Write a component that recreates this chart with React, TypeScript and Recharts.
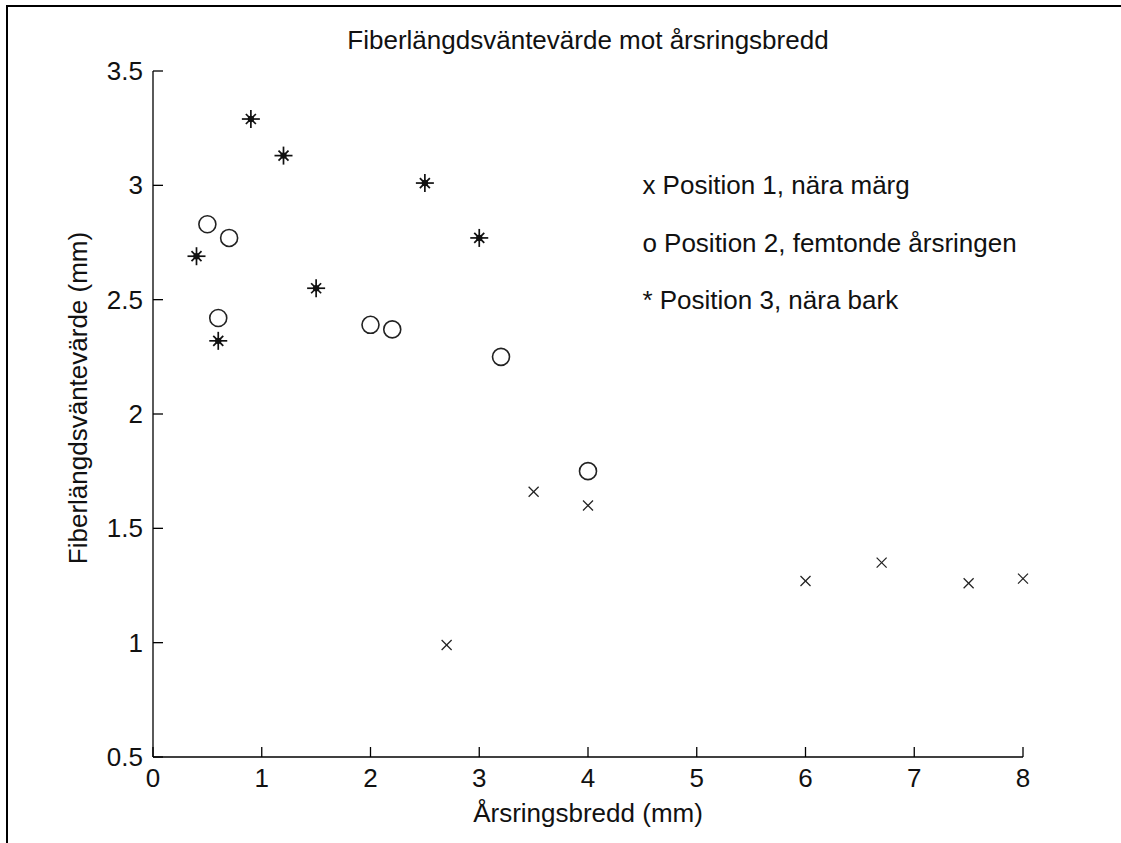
import React from 'react';
import { ScatterChart, Scatter, XAxis, YAxis } from 'recharts';

// Fibre length expectation vs. annual ring width, three sampling positions
const pos1X = [2.7, 3.5, 4.0, 6.0, 6.7, 7.5, 8.0];
const pos1Y = [0.99, 1.66, 1.6, 1.27, 1.35, 1.26, 1.28];

const pos2X = [0.5, 0.7, 0.6, 2.0, 2.2, 3.2, 4.0];
const pos2Y = [2.83, 2.77, 2.42, 2.39, 2.37, 2.25, 1.75];

const pos3X = [0.4, 0.9, 1.2, 1.5, 0.6, 2.5, 3.0];
const pos3Y = [2.69, 3.29, 3.13, 2.55, 2.32, 3.01, 2.77];

const xTicks = [0, 1, 2, 3, 4, 5, 6, 7, 8];
const yTicks = [0.5, 1, 1.5, 2, 2.5, 3, 3.5];

// text annotations placed in data coordinates (like MATLAB text())
const noteX = [4.5, 4.5, 4.5];
const noteY = [3.0, 2.75, 2.5];
const noteText = [
  'x Position 1, nära märg',
  'o Position 2, femtonde årsringen',
  '* Position 3, nära bark',
];

const zip = (xs: number[], ys: number[]) => xs.map((x, i) => ({ x, y: ys[i] }));
const pos1 = zip(pos1X, pos1Y);
const pos2 = zip(pos2X, pos2Y);
const pos3 = zip(pos3X, pos3Y);
const notes = noteX.map((x, i) => ({ x, y: noteY[i], text: noteText[i] }));

const FONT = '"Liberation Sans", Arial, sans-serif';
const FS = 26;
const INK = '#111';

const XTick = (props: any) => {
  const { x, y, payload } = props;
  return (
    <g>
      <line x1={x} y1={y} x2={x} y2={y - 10} stroke="#000" strokeWidth={1.3} />
      <text x={x} y={y + 30} textAnchor="middle" fontSize={FS} fontFamily={FONT} fill={INK}>
        {payload.value}
      </text>
    </g>
  );
};

const YTick = (props: any) => {
  const { x, y, payload } = props;
  return (
    <g>
      <line x1={x} y1={y} x2={x + 10} y2={y} stroke="#000" strokeWidth={1.3} />
      <text x={x - 10} y={y + 9} textAnchor="end" fontSize={FS} fontFamily={FONT} fill={INK}>
        {payload.value}
      </text>
    </g>
  );
};

const Cross = ({ cx, cy }: any) => (
  <g stroke="#222" strokeWidth={1.3}>
    <line x1={cx - 5} y1={cy - 5} x2={cx + 5} y2={cy + 5} />
    <line x1={cx - 5} y1={cy + 5} x2={cx + 5} y2={cy - 5} />
  </g>
);

const Ring = ({ cx, cy }: any) => (
  <circle cx={cx} cy={cy} r={8.5} fill="none" stroke="#222" strokeWidth={1.6} />
);

const Star = ({ cx, cy }: any) => (
  <g stroke="#111" strokeWidth={1.7}>
    <line x1={cx - 9} y1={cy} x2={cx + 9} y2={cy} />
    <line x1={cx} y1={cy - 9} x2={cx} y2={cy + 9} />
    <line x1={cx - 5} y1={cy - 5} x2={cx + 5} y2={cy + 5} />
    <line x1={cx - 5} y1={cy + 5} x2={cx + 5} y2={cy - 5} />
    <circle cx={cx} cy={cy} r={3.2} fill="#111" stroke="none" />
  </g>
);

const Note = ({ cx, cy, payload }: any) => (
  <text x={cx} y={cy} dominantBaseline="central" fontSize={FS} fontFamily={FONT} fill={INK}>
    {payload.text}
  </text>
);

const YLabel = ({ viewBox }: any) => {
  const cx = 78;
  const cy = viewBox.y + viewBox.height / 2 - 16;
  return (
    <text
      x={cx}
      y={cy}
      transform={`rotate(-90 ${cx} ${cy})`}
      textAnchor="middle"
      dominantBaseline="central"
      fontSize={FS}
      fontFamily={FONT}
      fill={INK}
    >
      Fiberlängdsväntevärde (mm)
    </text>
  );
};

export default function App() {
  return (
    <div style={{ position: 'absolute', left: 0, top: 0, width: 1121, height: 843, background: '#fff' }}>
      <div
        style={{
          position: 'absolute',
          left: 6,
          top: 5,
          right: 0,
          bottom: 0,
          borderTop: '2px solid #000',
          borderLeft: '2px solid #000',
        }}
      />
      <div
        style={{
          position: 'absolute',
          left: 153,
          width: 870,
          top: 27,
          lineHeight: '26px',
          fontSize: FS,
          fontFamily: FONT,
          color: INK,
          textAlign: 'center',
        }}
      >
        Fiberlängdsväntevärde mot årsringsbredd
      </div>
      <ScatterChart width={1121} height={843} margin={{ top: 71, right: 98, bottom: 0, left: 0 }}>
        <XAxis
          type="number"
          dataKey="x"
          domain={[0, 8]}
          ticks={xTicks}
          interval={0}
          height={86}
          tickSize={0}
          tickMargin={0}
          tickLine={false}
          axisLine={{ stroke: '#000', strokeWidth: 1.3 }}
          tick={<XTick />}
          label={{ value: 'Årsringsbredd (mm)', position: 'insideBottom', offset: 21, fontSize: FS, fontFamily: FONT, fill: INK }}
        />
        <YAxis
          type="number"
          dataKey="y"
          domain={[0.5, 3.5]}
          ticks={yTicks}
          interval={0}
          width={153}
          tickSize={0}
          tickMargin={0}
          tickLine={false}
          axisLine={{ stroke: '#000', strokeWidth: 1.3 }}
          tick={<YTick />}
          label={{ content: <YLabel /> }}
        />
        <Scatter data={pos1} shape={<Cross />} isAnimationActive={false} />
        <Scatter data={pos2} shape={<Ring />} isAnimationActive={false} />
        <Scatter data={pos3} shape={<Star />} isAnimationActive={false} />
        <Scatter data={notes} shape={<Note />} isAnimationActive={false} legendType="none" />
      </ScatterChart>
    </div>
  );
}
